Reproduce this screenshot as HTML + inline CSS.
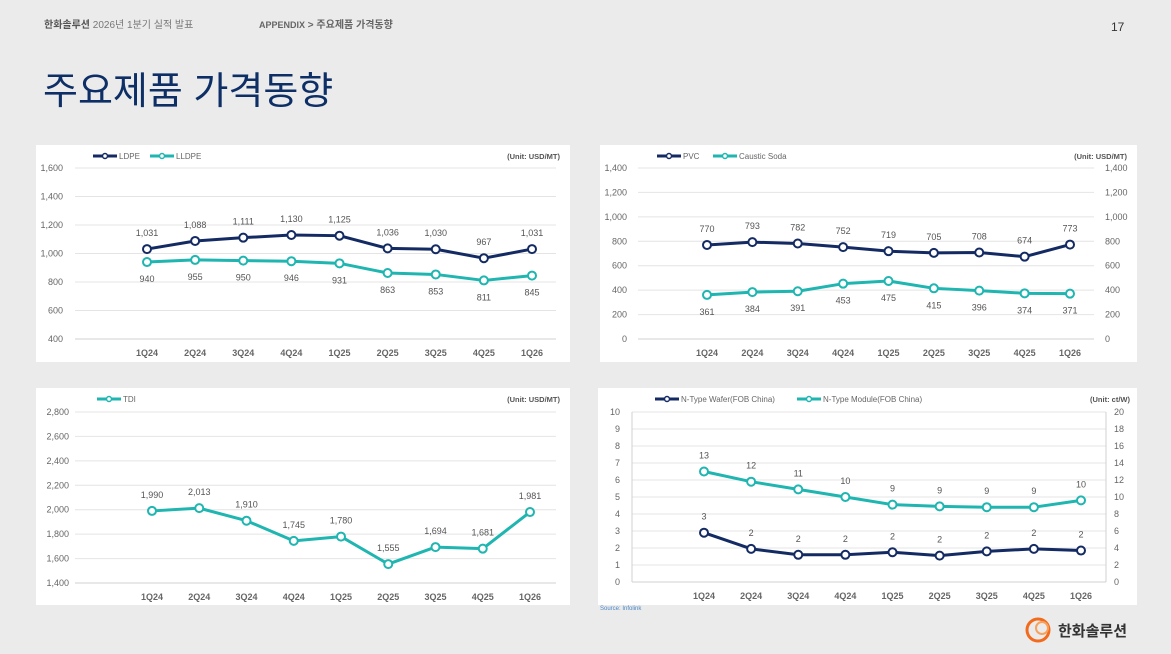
<!DOCTYPE html>
<html><head><meta charset="utf-8">
<style>
body{margin:0;width:1171px;height:654px;background:#ebebeb;overflow:hidden;font-family:"Liberation Sans","Noto Sans CJK KR",sans-serif;position:relative}
.hdr{position:absolute;top:16px;font-size:10px;color:#777}
.panel{position:absolute;background:#fff}
svg{position:absolute;left:0;top:0}
text{font-family:"Liberation Sans","Noto Sans CJK KR",sans-serif}
</style></head><body>
<div class="hdr" style="left:44px"><b style="color:#555">한화솔루션</b> 2026년 1분기 실적 발표</div>
<div class="hdr" style="left:259px;color:#666"><b style="font-size:9px">APPENDIX</b> <b>&gt;</b> <b>주요제품 가격동향</b></div>
<div class="hdr" style="left:1111px;top:20px;font-size:12px;color:#333">17</div>
<div style="position:absolute;left:43px;top:60px;font-size:38px;color:#0d2f66">주요제품 가격동향</div>
<div class="panel" style="left:36px;top:145px;width:534px;height:217px"></div>
<div class="panel" style="left:600px;top:145px;width:537px;height:217px"></div>
<div class="panel" style="left:36px;top:388px;width:534px;height:217px"></div>
<div class="panel" style="left:598px;top:388px;width:539px;height:217px"></div>
<div style="position:absolute;left:600px;top:606px;font-size:6px;color:#4a86c5">Source: Infolink</div>
<div style="position:absolute;left:1024px;top:615px;width:30px;height:30px">
<svg width="30" height="30"><circle cx="14" cy="15" r="11" fill="none" stroke="#f26b1d" stroke-width="3"/><circle cx="18" cy="13" r="6" fill="none" stroke="#f7a25c" stroke-width="2"/></svg></div>
<div style="position:absolute;left:1058px;top:620px;font-size:15px;font-weight:bold;color:#333">한화솔루션</div>
<svg id="c" width="1171" height="654"></svg>
<script>
const cats=["1Q24","2Q24","3Q24","4Q24","1Q25","2Q25","3Q25","4Q25","1Q26"];
const ldpe=[1031,1088,1111,1130,1125,1036,1030,967,1031];
const lldpe=[940,955,950,946,931,863,853,811,845];
const pvc=[770,793,782,752,719,705,708,674,773];
const soda=[361,384,391,453,475,415,396,374,371];
const tdi=[1990,2013,1910,1745,1780,1555,1694,1681,1981];
const wafer=[2.9,1.95,1.6,1.6,1.75,1.55,1.8,1.95,1.85];
const module_=[13,11.8,10.9,10,9.1,8.9,8.8,8.8,9.6];
const waferLbl=["3","2","2","2","2","2","2","2","2"];
const moduleLbl=["13","12","11","10","9","9","9","9","10"];
const NAVY="#142a63",TEAL="#1fb5b0",NS="http://www.w3.org/2000/svg";
const svg=document.getElementById('c');
function mk(t,a,txt){const e=document.createElementNS(NS,t);for(const k in a)e.setAttribute(k,a[k]);if(txt!=null)e.textContent=txt;svg.appendChild(e);return e;}
const fmt=v=>v.toLocaleString('en-US');
function chart(o){
  const ys=v=>o.y0+(v-o.min)/(o.max-o.min)*(o.y1-o.y0);
  const xs=i=>o.cx0+i*(o.cx1-o.cx0)/(cats.length-1);
  for(let v=o.min;v<=o.max+1e-9;v+=o.step){
    const g=mk('line',{x1:o.gx0,x2:o.gx1,y1:ys(v),y2:ys(v),stroke:v==o.min?'#d0d0d0':'#e4e4e4','stroke-width':1});
    
    const t=mk('text',{x:o.lx,y:ys(v)+3,'font-size':9,fill:'#666','text-anchor':'end'},fmt(v));
    
  }
  if(o.right){const r=o.right;const yr=v=>o.y0+(v-r.min)/(r.max-r.min)*(o.y1-o.y0);
    for(let v=r.min;v<=r.max+1e-9;v+=r.step){const t=mk('text',{x:r.x,y:yr(v)+3,'font-size':9,fill:'#666'},fmt(v));
    }}
  if(o.axes){mk('line',{x1:o.gx0,x2:o.gx0,y1:o.y0,y2:o.y1,stroke:'#d0d0d0'});mk('line',{x1:o.gx1,x2:o.gx1,y1:o.y0,y2:o.y1,stroke:'#d0d0d0'});}
  cats.forEach((c,i)=>{const t=mk('text',{x:xs(i),y:o.y0+17,'font-size':9,'font-weight':'bold',fill:'#666','text-anchor':'middle'},c);
    });
  o.series.forEach((s,si)=>{
    const ysS=s.scale?(v=>o.y0+(v-s.scale[0])/(s.scale[1]-s.scale[0])*(o.y1-o.y0)):ys;
    const p=mk('polyline',{points:s.data.map((v,i)=>xs(i)+','+ysS(v)).join(' '),fill:'none',stroke:s.color,'stroke-width':3,'stroke-linejoin':'round'});
    
    s.data.forEach((v,i)=>{
      const c=mk('circle',{cx:xs(i),cy:ysS(v),r:4,fill:'#fff',stroke:s.color,'stroke-width':2});
      
      const t=mk('text',{x:xs(i),y:ysS(v)+(s.below?20:-13),'font-size':9,fill:'#555','text-anchor':'middle'},s.labels?s.labels[i]:fmt(v));
      
    });
    const lx=o.legX[si],ly=o.legY;
    const l=mk('line',{x1:lx,x2:lx+24,y1:ly,y2:ly,stroke:s.color,'stroke-width':3});
    
    mk('circle',{cx:lx+12,cy:ly,r:2.5,fill:'#fff',stroke:s.color,'stroke-width':1.5});
    mk('text',{x:lx+26,y:ly+3,'font-size':8,fill:'#666'},s.title);
  });
  const u=mk('text',{x:o.ux,y:o.legY+3,'font-size':7.5,'font-weight':'bold',fill:'#555','text-anchor':'end'},o.unit);
  
}
chart({min:400,max:1600,step:200,y0:339,y1:168,gx0:75,gx1:556,lx:63,cx0:147,cx1:532,legY:156,legX:[93,150],ux:560,unit:"(Unit: USD/MT)",
 series:[{name:'ldpe',title:'LDPE',data:ldpe,color:NAVY},{name:'lldpe',title:'LLDPE',data:lldpe,color:TEAL,below:true}]});
chart({min:0,max:1400,step:200,y0:339,y1:168,gx0:638,gx1:1094,lx:627,cx0:707,cx1:1070,legY:156,legX:[657,713],ux:1127,unit:"(Unit: USD/MT)",
 right:{min:0,max:1400,step:200,x:1105},
 series:[{name:'pvc',title:'PVC',data:pvc,color:NAVY},{name:'caustic-soda',title:'Caustic Soda',data:soda,color:TEAL,below:true}]});
chart({min:1400,max:2800,step:200,y0:583,y1:412,gx0:75,gx1:556,lx:69,cx0:152,cx1:530,legY:399,legX:[97],ux:560,unit:"(Unit: USD/MT)",
 series:[{name:'tdi',title:'TDI',data:tdi,color:TEAL}]});
chart({min:0,max:10,step:1,y0:582,y1:412,gx0:632,gx1:1106,lx:620,cx0:704,cx1:1081,legY:399,legX:[655,797],ux:1130,unit:"(Unit: ct/W)",axes:true,
 right:{min:0,max:20,step:2,x:1114},
 series:[{name:'n-type-wafer',title:'N-Type Wafer(FOB China)',data:wafer,color:NAVY,labels:waferLbl},
         {name:'n-type-module',title:'N-Type Module(FOB China)',data:module_,color:TEAL,scale:[0,20],labels:moduleLbl}]});
</script>
</body></html>
